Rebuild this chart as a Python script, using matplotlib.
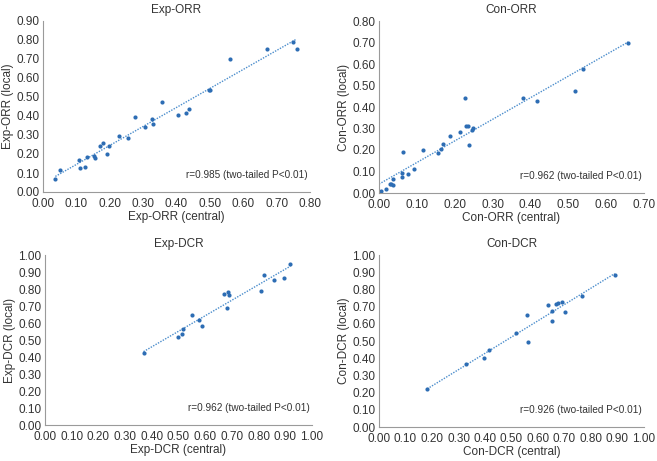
import numpy as np
import matplotlib.pyplot as plt

plt.rcParams['font.family'] = ['Liberation Sans', 'DejaVu Sans']

# Exp-ORR
exp_orr_c = [0.037, 0.052, 0.108, 0.110, 0.125, 0.131, 0.153, 0.155, 0.171, 0.179,
             0.192, 0.197, 0.228, 0.256, 0.275, 0.307, 0.326, 0.330, 0.357, 0.404,
             0.429, 0.438, 0.498, 0.500, 0.560, 0.670, 0.750, 0.760]
exp_orr_l = [0.068, 0.114, 0.166, 0.126, 0.129, 0.182, 0.192, 0.180, 0.243, 0.259,
             0.201, 0.240, 0.297, 0.283, 0.393, 0.343, 0.386, 0.360, 0.472, 0.404,
             0.416, 0.439, 0.537, 0.535, 0.698, 0.753, 0.792, 0.750]

# Con-ORR
con_orr_c = [0.005, 0.019, 0.028, 0.033, 0.037, 0.038, 0.061, 0.062, 0.063, 0.077,
             0.092, 0.115, 0.155, 0.163, 0.170, 0.188, 0.215, 0.226, 0.230, 0.234,
             0.239, 0.246, 0.248, 0.381, 0.417, 0.517, 0.540, 0.658]
con_orr_l = [0.010, 0.017, 0.042, 0.042, 0.039, 0.064, 0.076, 0.095, 0.191, 0.087,
             0.112, 0.202, 0.184, 0.203, 0.226, 0.267, 0.282, 0.443, 0.313, 0.310,
             0.223, 0.291, 0.302, 0.440, 0.428, 0.473, 0.578, 0.699]

# Exp-DCR
exp_dcr_c = [0.369, 0.499, 0.513, 0.516, 0.550, 0.578, 0.588, 0.671, 0.685, 0.688,
             0.683, 0.810, 0.821, 0.856, 0.895, 0.919]
exp_dcr_l = [0.425, 0.516, 0.537, 0.565, 0.649, 0.618, 0.582, 0.771, 0.780, 0.763,
             0.688, 0.788, 0.884, 0.855, 0.867, 0.947]

# Con-DCR
con_dcr_c = [0.182, 0.328, 0.395, 0.416, 0.516, 0.560, 0.562, 0.639, 0.651, 0.654,
             0.669, 0.675, 0.689, 0.703, 0.765, 0.889]
con_dcr_l = [0.221, 0.365, 0.400, 0.449, 0.546, 0.650, 0.493, 0.707, 0.614, 0.674,
             0.713, 0.722, 0.728, 0.666, 0.761, 0.885]

panels = [
    ('Exp-ORR', exp_orr_c, exp_orr_l, 0.80, 0.90, 'r=0.985 (two-tailed P<0.01)', False),
    ('Con-ORR', con_orr_c, con_orr_l, 0.70, 0.80, 'r=0.962 (two-tailed P<0.01)', True),
    ('Exp-DCR', exp_dcr_c, exp_dcr_l, 1.00, 1.00, 'r=0.962 (two-tailed P<0.01)', False),
    ('Con-DCR', con_dcr_c, con_dcr_l, 1.00, 1.00, 'r=0.926 (two-tailed P<0.01)', False),
]

W, H = 657, 461
boxes = [(43, 21, 310, 192), (379, 21, 644, 193),
         (45, 255, 312, 425), (379, 255, 644, 427)]

fig = plt.figure(figsize=(W / 100, H / 100), dpi=100)
dot = '#2d6db4'
gray = '#9a9a9a'
txt = '#333333'

for (name, xc, yl, xmax, ymax, note, from_zero), (l, t, r, b) in zip(panels, boxes):
    ax = fig.add_axes([l / W, 1 - b / H, (r - l) / W, (b - t) / H])
    xc = np.array(xc)
    yl = np.array(yl)
    k, c = np.polyfit(xc, yl, 1)
    x0 = 0.0 if from_zero else xc.min()
    xs = np.array([x0, xc.max()])
    ax.plot(xs, k * xs + c, ls=(0, (1, 1)), color='#4b8dcc', lw=1.0, zorder=1)
    ax.plot(xc, yl, 'o', color=dot, ms=3.0, mec='none', zorder=2)
    ax.set_xlim(0, xmax)
    ax.set_ylim(0, ymax)
    ax.set_xticks(np.arange(0, xmax + 0.001, 0.1))
    ax.set_yticks(np.arange(0, ymax + 0.001, 0.1))
    ax.xaxis.set_major_formatter(plt.FormatStrFormatter('%.2f'))
    ax.yaxis.set_major_formatter(plt.FormatStrFormatter('%.2f'))
    ax.tick_params(length=0, labelsize=8.5, colors=txt)
    ax.tick_params(axis='x', pad=4)
    ax.tick_params(axis='y', pad=2.5)
    for s in ['top', 'right']:
        ax.spines[s].set_visible(False)
    for s in ['left', 'bottom']:
        ax.spines[s].set_color(gray)
        ax.spines[s].set_linewidth(0.8)
    ax.set_title(name, fontsize=8.5, color=txt, pad=6)
    ax.set_xlabel(name + ' (central)', fontsize=8.5, color=txt, labelpad=1)
    ax.set_ylabel(name + ' (local)', fontsize=8.5, color=txt, labelpad=2)
    ax.text(0.99, 0.10, note, transform=ax.transAxes, ha='right', va='center',
            fontsize=7.2, color=txt)

fig.savefig('out.png', dpi=100)
